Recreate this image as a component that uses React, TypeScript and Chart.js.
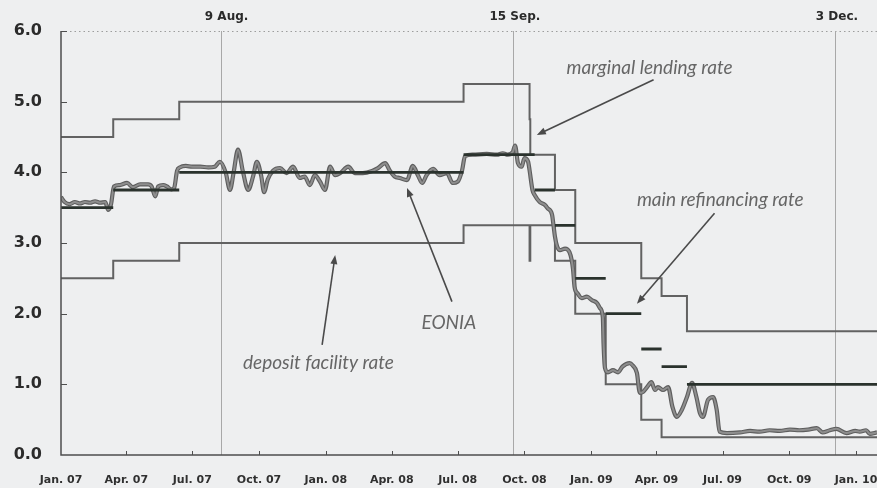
import React, { useEffect, useRef } from 'react';
import { Chart, registerables } from 'chart.js';

Chart.register(...registerables);

// x values are days since 1 Jan 2007
const quarterDays = [0, 90, 181, 273, 365, 456, 547, 639, 731, 821, 912, 1004, 1096];
const quarterLabels = ['Jan. 07', 'Apr. 07', 'Jul. 07', 'Oct. 07', 'Jan. 08', 'Apr. 08', 'Jul. 08', 'Oct. 08', 'Jan. 09', 'Apr. 09', 'Jul. 09', 'Oct. 09', 'Jan. 10'];
const yTicks = [0, 1, 2, 3, 4, 5, 6];
const xMax = 1125;

const eventDays = [220, 623, 1067];
const eventLabels = ['9 Aug.', '15 Sep.', '3 Dec.'];

// corridor rates (value valid from the given day)
const corridorDays = [0, 72, 163, 555, 646, 647, 681, 709, 751, 800, 828, 863, 1125];
const marginalLendingRate = [4.5, 4.75, 5.0, 5.25, 4.75, 4.25, 3.75, 3.0, 3.0, 2.5, 2.25, 1.75, 1.75];
const depositFacilityRate = [2.5, 2.75, 3.0, 3.25, 2.75, 3.25, 2.75, 2.0, 1.0, 0.5, 0.25, 0.25, 0.25];

// main refinancing rate segments
const mroStart = [0, 72, 163, 555, 653, 681, 709, 751, 800, 828, 863];
const mroEnd = [72, 163, 555, 653, 681, 709, 751, 800, 828, 863, 1125];
const mroRate = [3.5, 3.75, 4.0, 4.25, 3.75, 3.25, 2.5, 2.0, 1.5, 1.25, 1.0];

// EONIA
const eoniaDay = [0, 5, 12, 19, 26, 33, 40, 47, 54, 61, 65, 69, 73, 81, 91, 99, 109, 120, 125, 130, 134, 141, 146, 152, 156, 160, 164, 172, 181, 192, 203, 212, 219, 227, 233, 238, 244, 251, 258, 265, 270, 276, 280, 285, 292, 302, 311, 320, 329, 336, 343, 350, 357, 364, 371, 378, 385, 396, 405, 416, 429, 437, 447, 453, 460, 467, 477, 485, 492, 498, 504, 513, 522, 532, 540, 547, 553, 557, 568, 587, 601, 609, 616, 623, 626, 630, 635, 639, 644, 646, 650, 653, 660, 667, 671, 677, 679, 681, 684, 688, 695, 701, 704, 706, 708, 712, 718, 725, 732, 739, 743, 747, 748, 750, 754, 761, 768, 774, 784, 788, 794, 798, 802, 808, 814, 819, 823, 830, 837, 843, 849, 856, 863, 870, 876, 881, 885, 892, 899, 904, 908, 918, 936, 950, 963, 977, 991, 1005, 1018, 1030, 1042, 1050, 1060, 1069, 1083, 1095, 1101, 1110, 1115, 1125];
const eoniaRate = [3.65, 3.58, 3.55, 3.58, 3.56, 3.58, 3.57, 3.59, 3.57, 3.58, 3.47, 3.55, 3.80, 3.82, 3.85, 3.79, 3.83, 3.83, 3.80, 3.66, 3.80, 3.82, 3.80, 3.76, 3.78, 4.02, 4.07, 4.09, 4.08, 4.08, 4.07, 4.08, 4.15, 4.00, 3.75, 4.00, 4.32, 4.00, 3.75, 3.95, 4.15, 3.95, 3.72, 3.90, 4.02, 4.06, 3.99, 4.08, 3.92, 3.94, 3.82, 3.96, 3.87, 3.75, 4.08, 3.96, 3.99, 4.08, 3.99, 3.99, 4.02, 4.06, 4.13, 4.03, 3.94, 3.92, 3.89, 4.09, 3.96, 3.85, 3.96, 4.05, 3.96, 3.99, 3.85, 3.87, 4.03, 4.23, 4.25, 4.26, 4.25, 4.27, 4.25, 4.29, 4.38, 4.13, 4.08, 4.20, 4.15, 4.03, 3.75, 3.68, 3.58, 3.54, 3.49, 3.40, 3.25, 3.09, 2.95, 2.90, 2.92, 2.87, 2.76, 2.62, 2.38, 2.29, 2.22, 2.24, 2.19, 2.15, 2.08, 1.95, 1.58, 1.23, 1.17, 1.20, 1.17, 1.25, 1.30, 1.27, 1.16, 0.88, 0.89, 0.96, 1.03, 0.92, 0.96, 0.92, 0.96, 0.68, 0.54, 0.64, 0.82, 1.02, 0.82, 0.59, 0.54, 0.78, 0.82, 0.64, 0.33, 0.31, 0.32, 0.34, 0.33, 0.35, 0.34, 0.36, 0.35, 0.36, 0.38, 0.32, 0.35, 0.37, 0.31, 0.34, 0.33, 0.35, 0.30, 0.32];

// annotation texts with arrows, in data coordinates (day, rate)
const notes = [
  { text: 'marginal lending rate', day: 697, rate: 5.48, fromDay: 817, fromRate: 5.31, toDay: 656, toRate: 4.53 },
  { text: 'main refinancing rate', day: 794, rate: 3.61, fromDay: 901, fromRate: 3.42, toDay: 794, toRate: 2.14 },
  { text: 'EONIA', day: 497, rate: 1.87, fromDay: 539, fromRate: 2.17, toDay: 477, toRate: 3.78 },
  { text: 'deposit facility rate', day: 251, rate: 1.30, fromDay: 360, fromRate: 1.56, toDay: 378, toRate: 2.83 },
];

function drawArrow(ctx: CanvasRenderingContext2D, x1: number, y1: number, x2: number, y2: number) {
  const ang = Math.atan2(y2 - y1, x2 - x1);
  const len = 9;
  const w = 3.5;
  ctx.beginPath();
  ctx.moveTo(x1, y1);
  ctx.lineTo(x2 - Math.cos(ang) * len * 0.7, y2 - Math.sin(ang) * len * 0.7);
  ctx.stroke();
  ctx.beginPath();
  ctx.moveTo(x2, y2);
  ctx.lineTo(x2 - len * Math.cos(ang) + w * Math.sin(ang), y2 - len * Math.sin(ang) - w * Math.cos(ang));
  ctx.lineTo(x2 - len * Math.cos(ang) - w * Math.sin(ang), y2 - len * Math.sin(ang) + w * Math.cos(ang));
  ctx.closePath();
  ctx.fill();
}

const decorPlugin = {
  id: 'decor',
  beforeDatasetsDraw(chart: any) {
    const { ctx, chartArea: a, scales } = chart;
    const x = scales.x;
    const y = scales.y;
    ctx.save();
    ctx.strokeStyle = '#9d9d9d';
    ctx.lineWidth = 1;
    ctx.setLineDash([1.5, 3]);
    const ty = Math.round(y.getPixelForValue(6)) + 0.5;
    ctx.beginPath();
    ctx.moveTo(a.left, ty);
    ctx.lineTo(a.right, ty);
    ctx.stroke();
    ctx.setLineDash([]);
    ctx.strokeStyle = '#a8a8a8';
    eventDays.forEach((d) => {
      const px = Math.round(x.getPixelForValue(d)) + 0.5;
      ctx.beginPath();
      ctx.moveTo(px, a.top);
      ctx.lineTo(px, a.bottom);
      ctx.stroke();
    });
    ctx.restore();
  },
  afterDatasetsDraw(chart: any) {
    const { ctx, chartArea: a, scales } = chart;
    const x = scales.x;
    const y = scales.y;
    ctx.save();
    // axes
    ctx.strokeStyle = '#4e4e4e';
    ctx.lineWidth = 1.5;
    ctx.beginPath();
    ctx.moveTo(a.left, a.top);
    ctx.lineTo(a.left, a.bottom);
    ctx.lineTo(a.right, a.bottom);
    ctx.stroke();
    ctx.lineWidth = 1;
    yTicks.forEach((v) => {
      if (v === 0) return;
      const py = Math.round(y.getPixelForValue(v)) + 0.5;
      ctx.beginPath();
      ctx.moveTo(a.left, py);
      ctx.lineTo(a.left + 6, py);
      ctx.stroke();
    });
    quarterDays.forEach((d, i) => {
      if (i === 0) return;
      const px = Math.round(x.getPixelForValue(d)) + 0.5;
      ctx.beginPath();
      ctx.moveTo(px, a.bottom);
      ctx.lineTo(px, a.bottom - 4);
      ctx.stroke();
    });
    // event labels
    ctx.fillStyle = '#2a2a2a';
    ctx.font = 'bold 12px "DejaVu Sans"';
    ctx.textAlign = 'center';
    ctx.textBaseline = 'middle';
    eventDays.forEach((d, i) => {
      ctx.fillText(eventLabels[i], x.getPixelForValue(d) + (i === 0 ? 6 : 2), a.top - 14);
    });
    // annotations
    ctx.font = 'italic 19px Lato';
    ctx.textAlign = 'left';
    ctx.fillStyle = '#666666';
    notes.forEach((n) => {
      ctx.fillText(n.text, x.getPixelForValue(n.day), y.getPixelForValue(n.rate));
    });
    ctx.strokeStyle = '#4a4a4a';
    ctx.fillStyle = '#4a4a4a';
    ctx.lineWidth = 1.6;
    notes.forEach((n) => {
      drawArrow(ctx, x.getPixelForValue(n.fromDay), y.getPixelForValue(n.fromRate), x.getPixelForValue(n.toDay), y.getPixelForValue(n.toRate));
    });
    ctx.restore();
  },
};

export default function App() {
  const ref = useRef<HTMLCanvasElement | null>(null);
  useEffect(() => {
    if (!ref.current) return;
    const mroData: any[] = [];
    mroRate.forEach((v, i) => {
      mroData.push({ x: mroStart[i], y: v });
      mroData.push({ x: mroEnd[i], y: v });
      mroData.push({ x: mroEnd[i], y: null });
    });
    const eonia = eoniaDay.map((d, i) => ({ x: d, y: eoniaRate[i] }));
    const mlr = corridorDays.map((d, i) => ({ x: d, y: marginalLendingRate[i] }));
    const dfr = corridorDays.map((d, i) => ({ x: d, y: depositFacilityRate[i] }));
    const chart = new Chart(ref.current, {
      type: 'line',
      data: {
        datasets: [
          { label: 'main refinancing rate', data: mroData, borderColor: '#2a322d', borderWidth: 2.8, pointRadius: 0, spanGaps: false, order: 0 } as any,
          { label: 'EONIA', data: eonia, borderColor: '#8e8e8e', borderWidth: 2, pointRadius: 0, cubicInterpolationMode: 'monotone', order: 1 } as any,
          { label: 'EONIA outline', data: eonia, borderColor: '#5e5e5e', borderWidth: 4.2, pointRadius: 0, cubicInterpolationMode: 'monotone', order: 2 } as any,
          { label: 'marginal lending rate', data: mlr, borderColor: '#626262', borderWidth: 2, pointRadius: 0, stepped: true, order: 3 } as any,
          { label: 'deposit facility rate', data: dfr, borderColor: '#626262', borderWidth: 2, pointRadius: 0, stepped: true, order: 3 } as any,
        ],
      },
      options: {
        animation: false,
        responsive: false,
        maintainAspectRatio: false,
        layout: { padding: { top: 31, left: 0, right: 0, bottom: 0 } },
        plugins: { legend: { display: false }, tooltip: { enabled: false } },
        scales: {
          x: {
            type: 'linear',
            min: 0,
            max: xMax,
            grid: { display: false, drawTicks: false },
            border: { display: false },
            afterBuildTicks: (s: any) => { s.ticks = quarterDays.map((v) => ({ value: v })); },
            afterFit: (s: any) => { s.height = 33; s.paddingLeft = 0; s.paddingRight = 0; },
            ticks: {
              autoSkip: false,
              maxRotation: 0,
              padding: 19,
              color: '#303030',
              font: { family: 'DejaVu Sans', weight: 'bold', size: 11 },
              callback: (_v: any, i: number) => quarterLabels[i],
            },
          },
          y: {
            min: 0,
            max: 6,
            grid: { display: false, drawTicks: false },
            border: { display: false },
            afterBuildTicks: (s: any) => { s.ticks = yTicks.map((v) => ({ value: v })); },
            afterFit: (s: any) => { s.width = 61; s.paddingTop = 0; s.paddingBottom = 0; },
            ticks: {
              padding: 19,
              color: '#2b2b2b',
              font: { family: 'DejaVu Sans', weight: 'bold', size: 16 },
              callback: (v: any) => Number(v).toFixed(1),
            },
          },
        },
      } as any,
      plugins: [decorPlugin],
    });
    return () => chart.destroy();
  }, []);
  return (
    <div style={{ position: 'fixed', left: 0, top: 0, width: 877, height: 488, background: '#eeeff0' }}>
      <canvas ref={ref} width={877} height={488} style={{ display: 'block', width: 877, height: 488 }} />
    </div>
  );
}
